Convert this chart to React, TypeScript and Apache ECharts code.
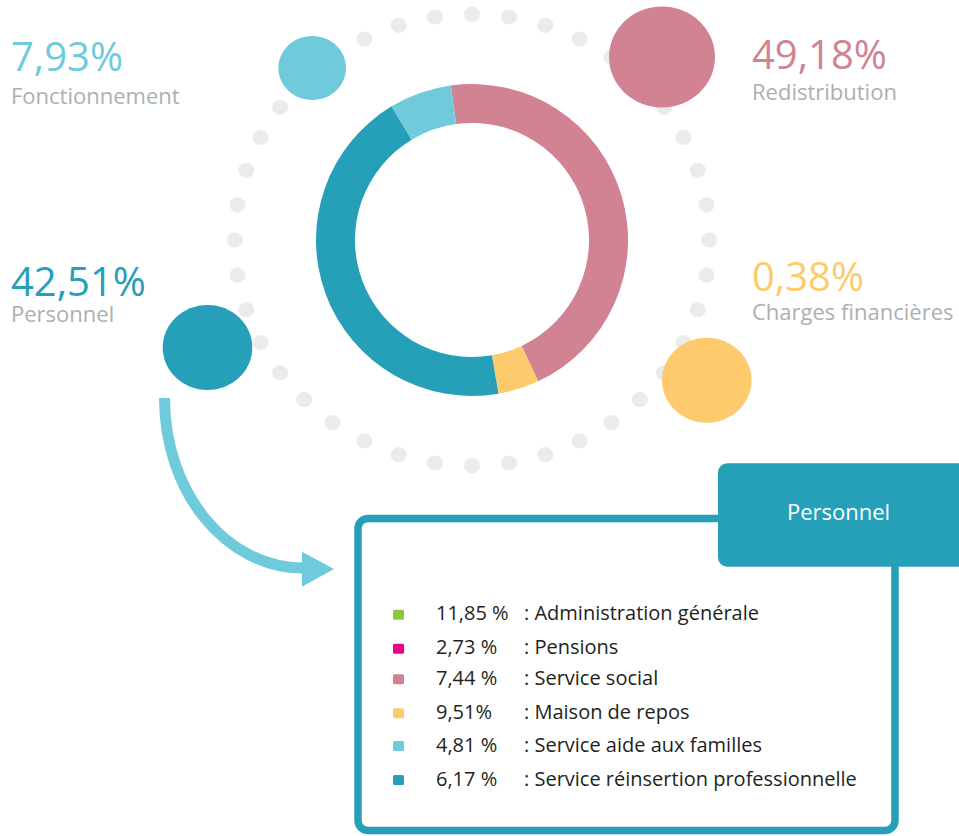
import React, { useEffect, useRef } from "react";
import * as echarts from "echarts";

// Main categories (clockwise from the top of the donut)
const mainCategories = ["Redistribution", "Charges financières", "Personnel", "Fonctionnement"];
const mainPercentLabels = ["49,18%", "0,38%", "42,51%", "7,93%"];
// Donut sector shares as drawn in the picture
const donutShares = [45.2, 4.25, 44.1, 6.45];
const mainColors = ["#d28393", "#fdcb6e", "#26a0b9", "#6fcbdc"];

// Breakdown of "Personnel"
const subCategories = [
  "Administration générale",
  "Pensions",
  "Service social",
  "Maison de repos",
  "Service aide aux familles",
  "Service réinsertion professionnelle",
];
const subPercentLabels = ["11,85 %", "2,73 %", "7,44 %", "9,51%", "4,81 %", "6,17 %"];
const subColors = ["#8dc63f", "#ec008c", "#d28393", "#fdcb6e", "#6fcbdc", "#26a0b9"];

const FONT = "'Open Sans', 'Noto Sans', sans-serif";
const GRAY = "#abb0b2";

export default function App() {
  const ref = useRef<HTMLDivElement>(null);

  useEffect(() => {
    if (!ref.current) return;
    const chart = echarts.init(ref.current, undefined, { renderer: "svg" });

    const cx = 472;
    const cy = 240;

    // decorative dotted ring
    const dots: any[] = [];
    for (let k = 0; k < 40; k++) {
      const a = (k * 9 * Math.PI) / 180;
      dots.push({
        type: "ellipse",
        shape: { cx: cx + 237.3 * Math.sin(a), cy: cy - 225.7 * Math.cos(a), rx: 8, ry: 7.5 },
        style: { fill: "#ebebeb" },
        silent: true,
        z: 1,
      });
    }

    // bubbles (same order as mainCategories)
    const bubbles = [
      { cx: 662, cy: 57, rx: 53, ry: 50.5 },
      { cx: 706.8, cy: 380.2, rx: 44.8, ry: 42.5 },
      { cx: 207.5, cy: 347.5, rx: 44.8, ry: 42.5 },
      { cx: 312.2, cy: 68, rx: 33.8, ry: 32 },
    ].map((s, i) => ({
      type: "ellipse",
      shape: s,
      style: { fill: mainColors[i] },
      silent: true,
      z: 2,
    }));

    // label anchors (same order as mainCategories)
    const labelPos = [
      { x: 752, yP: 53, yN: 91 },
      { x: 752, yP: 275, yN: 311 },
      { x: 11, yP: 280, yN: 312.5 },
      { x: 11, yP: 55, yN: 94.5 },
    ];
    const mainLabels: any[] = [];
    mainCategories.forEach((name, i) => {
      const p = labelPos[i];
      mainLabels.push({
        type: "text",
        x: p.x,
        y: p.yP,
        style: {
          text: mainPercentLabels[i],
          fill: mainColors[i],
          font: `40px ${FONT}`,
          textAlign: "left",
          textVerticalAlign: "middle",
        },
        z: 3,
      });
      mainLabels.push({
        type: "text",
        x: p.x,
        y: p.yN,
        style: {
          text: name,
          fill: GRAY,
          font: `22px ${FONT}`,
          textAlign: "left",
          textVerticalAlign: "middle",
        },
        z: 3,
      });
    });

    // arrow
    const arrow = [
      {
        type: "bezierCurve",
        shape: {
          x1: 164.5,
          y1: 398,
          cpx1: 164.5,
          cpy1: 492.3,
          cpx2: 226.1,
          cpy2: 568,
          x2: 303,
          y2: 568,
        },
        style: { stroke: "#6fcbdc", lineWidth: 11, fill: null },
        silent: true,
        z: 2,
      },
      {
        type: "polygon",
        shape: { points: [[302, 551.7], [334, 569], [302, 586.7]] },
        style: { fill: "#6fcbdc" },
        silent: true,
        z: 2,
      },
    ];

    // box and header tab
    const box = [
      {
        type: "rect",
        shape: { x: 358, y: 518.5, width: 537, height: 312, r: 10 },
        style: { fill: "#ffffff", stroke: "#26a0b9", lineWidth: 7.5 },
        silent: true,
        z: 2,
      },
      {
        type: "rect",
        shape: { x: 718, y: 463.3, width: 260, height: 103.4, r: 9 },
        style: { fill: "#26a0b9" },
        silent: true,
        z: 3,
      },
      {
        type: "text",
        x: 838.5,
        y: 511,
        style: {
          text: "Personnel",
          fill: "#ffffff",
          font: `22px ${FONT}`,
          textAlign: "center",
          textVerticalAlign: "middle",
        },
        z: 4,
      },
    ];

    // breakdown list
    const rowY = [614.7, 648.7, 679.3, 713.3, 746, 780];
    const list: any[] = [];
    subCategories.forEach((name, i) => {
      list.push({
        type: "rect",
        shape: { x: 393, y: rowY[i] - 5, width: 11, height: 10, r: 1.5 },
        style: { fill: subColors[i] },
        silent: true,
        z: 4,
      });
      list.push({
        type: "text",
        x: 436,
        y: rowY[i] - 2,
        style: {
          text: subPercentLabels[i],
          fill: "#231f20",
          font: `20px ${FONT}`,
          textAlign: "left",
          textVerticalAlign: "middle",
        },
        z: 4,
      });
      list.push({
        type: "text",
        x: 524,
        y: rowY[i] - 2,
        style: {
          text: ": " + name,
          fill: "#231f20",
          font: `20px ${FONT}`,
          textAlign: "left",
          textVerticalAlign: "middle",
        },
        z: 4,
      });
    });

    chart.setOption({
      animation: false,
      backgroundColor: "#ffffff",
      series: [
        {
          type: "pie",
          center: [cx, cy],
          radius: [117, 156],
          startAngle: 97.8,
          clockwise: true,
          silent: true,
          label: { show: false },
          labelLine: { show: false },
          emphasis: { disabled: true },
          itemStyle: { borderWidth: 0 },
          data: mainCategories.map((name, i) => ({
            name,
            value: donutShares[i],
            itemStyle: { color: mainColors[i] },
          })),
        },
      ],
      graphic: { elements: [...dots, ...bubbles, ...mainLabels, ...arrow, ...box, ...list] },
    });

    return () => chart.dispose();
  }, []);

  return (
    <div
      ref={ref}
      style={{ position: "absolute", left: 0, top: 0, width: 959, height: 836 }}
    />
  );
}
